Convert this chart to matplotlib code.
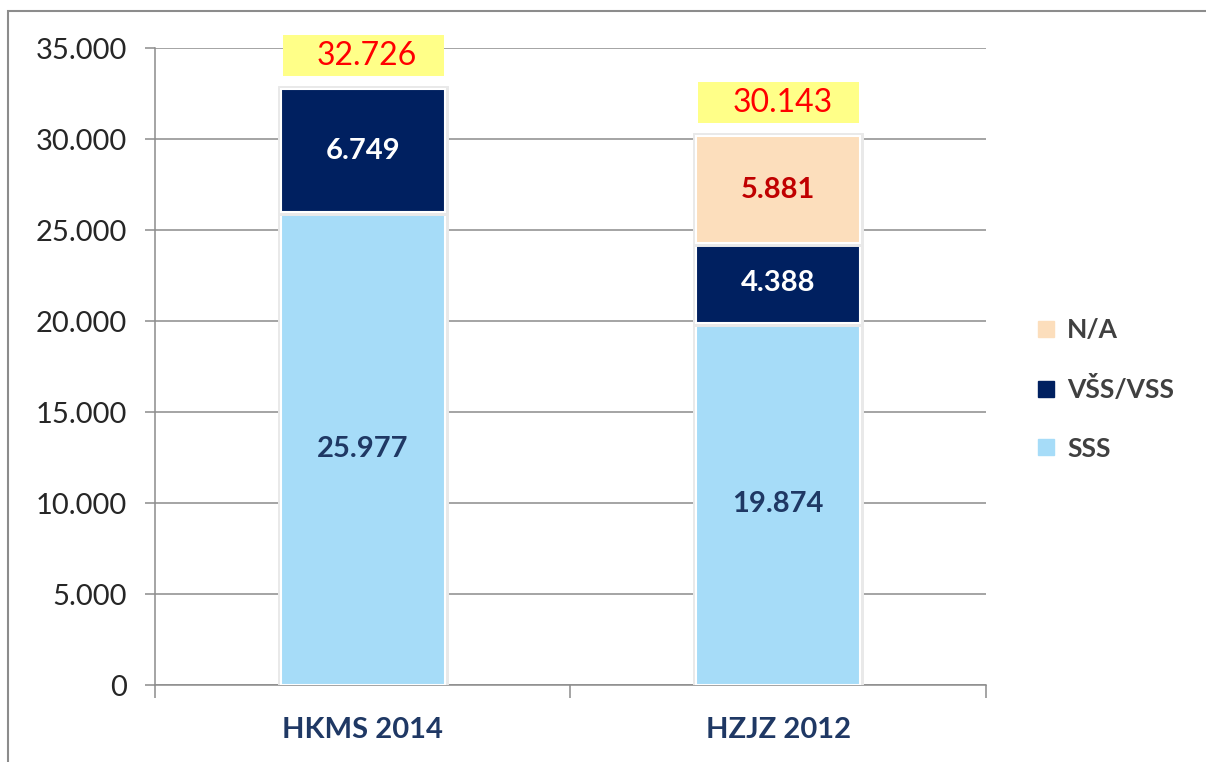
import matplotlib

matplotlib.use("Agg")

import matplotlib.patheffects as pe
import matplotlib.pyplot as plt
from matplotlib.lines import Line2D
from matplotlib.patches import Rectangle

plt.rcParams["font.family"] = ["Lato", "DejaVu Sans"]

categories = ["HKMS 2014", "HZJZ 2012"]
sss = [25977, 19874]
vss = [6749, 4388]
na = [0, 5881]
series_labels = ["SSS", "VŠS/VSS", "N/A"]

C_SSS = "#A6DCF8"
C_VSS = "#002060"
C_NA = "#FCDEBC"
C_GRID = "#8C8C8C"


def fmt(v):
    return f"{v:,.0f}".replace(",", ".")


fig = plt.figure(figsize=(12.06, 7.62), dpi=100)
ax = fig.add_axes([0.1285, 0.1010, 0.8176 - 0.1285, 0.9370 - 0.1010])

x = list(range(len(categories)))
width = 0.395
shadow = [pe.Stroke(linewidth=5, foreground="#e9e9e9"), pe.Normal()]

bottoms = [0] * len(categories)
stacks = [(sss, C_SSS, "#1F3864"), (vss, C_VSS, "white"), (na, C_NA, "#C00000")]
for values, color, txt_color in stacks:
    bars = ax.bar(x, values, width, bottom=bottoms, color=color,
                  edgecolor="white", linewidth=1.5, zorder=3)
    for bar, v, b in zip(bars, values, bottoms):
        if v == 0:
            bar.set_visible(False)
            continue
        bar.set_path_effects(shadow)
        ax.text(bar.get_x() + bar.get_width() / 2, b + v / 2, fmt(v),
                ha="center", va="center", fontsize=21, fontweight="bold",
                color=txt_color, zorder=5)
    bottoms = [b + v for b, v in zip(bottoms, values)]

# totals in yellow boxes above each bar
for xi, total in zip(x, bottoms):
    ax.add_patch(Rectangle((xi - 0.193, total + 710), 0.388, 2300,
                           facecolor="#FFFF88", edgecolor="none",
                           zorder=4, clip_on=False))
    ax.text(xi + 0.01, total + 1860, fmt(total), ha="center", va="center",
            fontsize=23, color="#FF0000", zorder=5, clip_on=False)

ax.set_xlim(-0.5, 1.5)
ax.set_ylim(0, 35000)
ax.set_yticks(range(0, 35001, 5000))
ax.set_yticklabels([fmt(v) for v in range(0, 35001, 5000)])
ax.yaxis.grid(True, color=C_GRID, linewidth=1.1, zorder=0)
ax.set_axisbelow(True)

ax.set_xticks([-0.5, 0.5, 1.5])
ax.set_xticklabels([])
ax.set_xticks(x, categories, minor=True)
ax.tick_params(axis="x", which="major", length=9, color=C_GRID, width=1.1)
ax.tick_params(axis="x", which="minor", length=0, pad=23, labelsize=21,
               labelcolor="#1F3864")
for lbl in ax.get_xticklabels(minor=True):
    lbl.set_fontweight("bold")
ax.tick_params(axis="y", length=7, color=C_GRID, width=1.1, pad=13,
               labelsize=21, labelcolor="#262626")

for side in ("top", "right"):
    ax.spines[side].set_visible(False)
for side in ("left", "bottom"):
    ax.spines[side].set_color(C_GRID)
    ax.spines[side].set_linewidth(1.1)

handles = [
    Line2D([], [], marker="s", linestyle="none", markersize=12,
           markerfacecolor=c, markeredgecolor=c)
    for c in (C_NA, C_VSS, C_SSS)
]
leg = fig.legend(handles, series_labels[::-1], loc="center left",
                 bbox_to_anchor=(0.840, 0.489), frameon=False,
                 handlelength=0.7, handletextpad=0.45, labelspacing=1.3,
                 prop={"size": 19, "weight": "bold"})
for t in leg.get_texts():
    t.set_color("#404040")

# outer chart border (top and left edges visible in the original)
fig.add_artist(Rectangle((8 / 1206, -0.05), 1.1, 1.05 - 10.5 / 762,
                         transform=fig.transFigure, fill=False,
                         edgecolor="#8C8C8C", linewidth=1.5))

fig.savefig("out.png", dpi=100)
